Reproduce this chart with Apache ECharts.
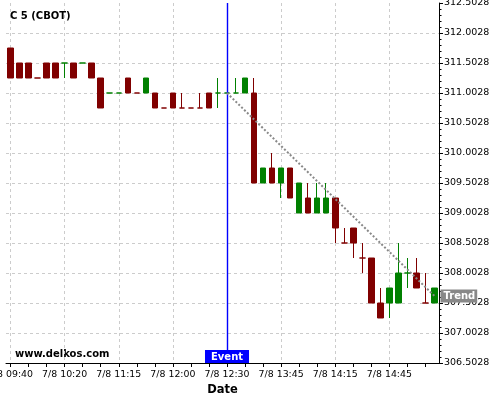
<!DOCTYPE html>
<html><head><meta charset="utf-8">
<script src="https://cdn.jsdelivr.net/npm/echarts@6/dist/echarts.min.js"></script>
<style>html,body{margin:0;padding:0;background:#fff}#c{width:500px;height:400px}</style>
</head><body><div id="c"></div>
<script>
const categories = [
 '7/8 09:40','7/8 09:45','7/8 09:55','7/8 10:00','7/8 10:05','7/8 10:15',
 '7/8 10:20','7/8 10:25','7/8 10:35','7/8 10:45','7/8 10:55','7/8 11:05',
 '7/8 11:15','7/8 11:20','7/8 11:30','7/8 11:35','7/8 11:45','7/8 11:50',
 '7/8 12:00','7/8 12:05','7/8 12:10','7/8 12:15','7/8 12:20','7/8 12:25',
 '7/8 12:30','7/8 12:35','7/8 12:40','7/8 13:20','7/8 13:25','7/8 13:35',
 '7/8 13:45','7/8 13:50','7/8 13:55','7/8 14:00','7/8 14:05','7/8 14:10',
 '7/8 14:15','7/8 14:20','7/8 14:25','7/8 14:30','7/8 14:35','7/8 14:40',
 '7/8 14:45','7/8 14:50','7/8 14:55','7/8 15:00','7/8 15:05','7/8 15:10'
];
const opens = [
 311.7528,311.5028,311.5028,311.2528,311.5028,311.5028,
 311.5028,311.5028,311.5028,311.5028,311.2528,311.0028,
 311.0028,311.2528,311.0028,311.0028,311.0028,310.7528,
 311.0028,310.7528,310.7528,310.7528,311.0028,311.0028,
 311.0028,311.0028,311.0028,311.0028,309.5028,309.7528,
 309.5028,309.7528,309.0028,309.2528,309.0028,309.0028,
 309.2528,308.5028,308.7528,308.2528,308.2528,307.5028,
 307.5028,307.5028,308.0028,308.0028,307.5028,307.5028
];
const closes = [
 311.2528,311.2528,311.2528,311.2528,311.2528,311.2528,
 311.5028,311.2528,311.5028,311.2528,310.7528,311.0028,
 311.0028,311.0028,311.0028,311.2528,310.7528,310.7528,
 310.7528,310.7528,310.7528,310.7528,310.7528,311.0028,
 311.0028,311.0028,311.2528,309.5028,309.7528,309.5028,
 309.7528,309.2528,309.5028,309.0028,309.2528,309.2528,
 308.7528,308.5028,308.5028,308.2528,307.5028,307.2528,
 307.7528,308.0028,308.0028,307.7528,307.5028,307.7528
];
const lows = [
 311.2528,311.2528,311.2528,311.2528,311.2528,311.2528,
 311.2528,311.2528,311.5028,311.2528,310.7528,311.0028,
 311.0028,311.0028,311.0028,311.0028,310.7528,310.7528,
 310.7528,310.7528,310.7528,310.7528,310.7528,310.7528,
 311.0028,311.0028,311.0028,309.5028,309.5028,309.5028,
 309.2528,309.2528,309.0028,309.0028,309.0028,309.0028,
 308.5028,308.5028,308.2528,308.0028,307.5028,307.2528,
 307.2528,307.5028,307.7528,307.7528,307.5028,307.5028
];
const highs = [
 311.7528,311.5028,311.5028,311.2528,311.5028,311.5028,
 311.5028,311.5028,311.5028,311.5028,311.2528,311.0028,
 311.0028,311.2528,311.0028,311.2528,311.0028,310.7528,
 311.0028,311.0028,310.7528,311.0028,311.0028,311.2528,
 311.0028,311.2528,311.2528,311.2528,309.7528,310.0028,
 309.7528,309.7528,309.5028,309.5028,309.5028,309.5028,
 309.2528,308.7528,308.7528,308.5028,308.2528,307.7528,
 307.7528,308.5028,308.2528,308.2528,308.0028,307.7528
];
// 1 = rising candle, -1 = falling candle
const direction = [
 -1,-1,-1,-1,-1,-1,
  1,-1, 1,-1,-1, 1,
  1,-1,-1, 1,-1,-1,
 -1,-1,-1,-1,-1, 1,
  1, 1, 1,-1, 1,-1,
  1,-1, 1,-1, 1, 1,
 -1,-1,-1,-1,-1,-1,
  1, 1, 1,-1,-1, 1
];
const yMin = 306.5028, yMax = 312.5028, yStep = 0.5;
const eventCategory = '7/8 12:30';
const trendStart = ['7/8 12:30', 311.0028];
const trendEnd = ['7/8 15:10', 307.62];

const UP = '#008000', DOWN = '#800000';
const FONT = 'DejaVu Sans';
const chart = echarts.init(document.getElementById('c'), null, {renderer: 'canvas'});
const candleData = categories.map((_, i) => {
  const col = direction[i] > 0 ? UP : DOWN;
  return {
    value: [opens[i], closes[i], lows[i], highs[i]],
    itemStyle: {color: col, color0: col, borderColor: col, borderColor0: col}
  };
});
chart.setOption({
  animation: false,
  backgroundColor: '#fff',
  title: {
    text: 'C 5 (CBOT)', left: 10, top: 11, padding: 0,
    textStyle: {fontFamily: FONT, fontSize: 10, fontWeight: 'bold', color: '#000'}
  },
  graphic: [{
    type: 'text', left: 15, top: 349,
    style: {text: 'www.delkos.com', font: 'bold 10px "DejaVu Sans"', fill: '#000'}
  }],
  grid: {left: 6, right: 61, top: 3, bottom: 37, containLabel: false, outerBoundsMode: 'none'},
  xAxis: {
    type: 'category', data: categories, boundaryGap: true,
    name: 'Date', nameLocation: 'middle', nameGap: 19,
    nameTextStyle: {fontFamily: FONT, fontSize: 11.5, fontWeight: 'bold', color: '#000'},
    axisLine: {lineStyle: {color: '#000', width: 1}},
    axisTick: {show: true, alignWithLabel: true, interval: 1, length: 4, lineStyle: {color: '#000'}},
    axisLabel: {interval: 5, margin: 7, fontFamily: FONT, fontSize: 9.4, color: '#000', hideOverlap: false},
    splitLine: {show: true, interval: 5, alignWithLabel: true, lineStyle: {color: '#cccccc', type: [3, 3], width: 1}}
  },
  yAxis: {
    type: 'value', position: 'right', min: yMin, max: yMax, interval: yStep, scale: true,
    axisLine: {show: true, lineStyle: {color: '#000', width: 1}},
    axisTick: {show: true, length: 4, lineStyle: {color: '#000'}},
    minorTick: {show: true, splitNumber: 5, length: 2.5, lineStyle: {color: '#000'}},
    axisLabel: {margin: 5, fontFamily: FONT, fontSize: 9.5, color: '#000',
      formatter: v => (yMin + Math.round((v - yMin) / yStep) * yStep).toFixed(4)},
    splitLine: {show: true, showMaxLine: false, showMinLine: false,
      lineStyle: {color: '#cccccc', type: [3, 3], width: 1}}
  },
  series: [{
    type: 'candlestick', data: candleData, barWidth: 6, clip: false,
    itemStyle: {borderWidth: 1},
    markLine: {
      silent: true, symbol: 'none', animation: false,
      label: {show: false},
      data: [
        [
          {coord: [eventCategory, yMin], lineStyle: {color: '#0000ff', width: 1.4, type: 'solid', opacity: 1}},
          {coord: [eventCategory, yMax]}
        ],
        [
          {coord: trendStart, lineStyle: {color: '#888888', width: 2, type: 'dotted'}},
          {coord: trendEnd}
        ]
      ]
    },
    markPoint: {
      silent: true, symbol: 'rect', symbolSize: 0, animation: false,
      data: [
        {coord: [eventCategory, yMin],
          label: {show: true, position: 'top', distance: 0, formatter: 'Event',
            backgroundColor: '#0000ff', color: '#fff', fontFamily: FONT, fontSize: 10, fontWeight: 'bold',
            padding: [2, 6, 1, 6]}},
        {coord: trendEnd,
          label: {show: true, position: 'right', distance: 6, formatter: 'Trend',
            backgroundColor: '#888888', color: '#fff', fontFamily: FONT, fontSize: 10, fontWeight: 'bold',
            padding: [2, 2, 1, 3]}}
      ]
    }
  }]
});
</script></body></html>
